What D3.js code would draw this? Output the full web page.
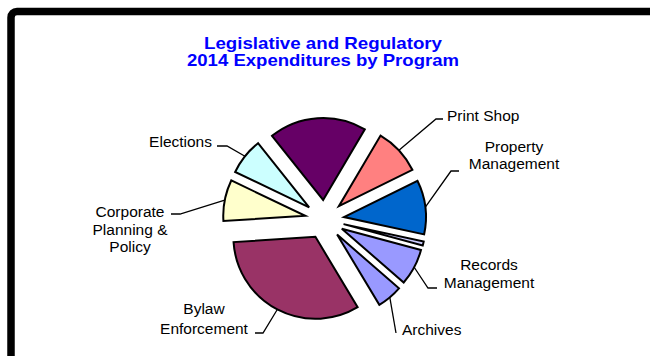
<!DOCTYPE html>
<html>
<head>
<meta charset="utf-8">
<script src="https://cdn.jsdelivr.net/npm/d3@7"></script>
<style>
  html, body { margin: 0; padding: 0; background: #ffffff; }
  svg { display: block; }
</style>
</head>
<body>
<svg id="chart" width="650" height="356"></svg>
<script>
// Programs in series order (clockwise); two small programs carry no label.
const categories = ["Archives", "Bylaw Enforcement", "Corporate Planning & Policy", "Elections", "",
                    "Print Shop", "Property Management", "", "Records Management"];
// Share of 2014 expenditures, percent
const shares = [5.0, 32.6, 8.1, 7.2, 19.2, 9.2, 10.7, 0.8, 7.2];
const sliceColors = ["#9999FF", "#993366", "#FFFFCC", "#CCFFFF", "#660066",
                     "#FF8080", "#0066CC", "#CCCCFF", "#9999FF"];
const titleLines = ["Legislative and Regulatory", "2014 Expenditures by Program"];

// Label placement: text lines, text position and the leader line's elbow/end points.
const labelLayout = {
  "Print Shop":                  { lines: ["Print Shop"], x: 447, cy: [115], anchor: "start", elbow: [436, 119], end: [443, 119] },
  "Property Management":         { lines: ["Property", "Management"], x: 514, cy: [146, 163], anchor: "middle", elbow: [451, 171], end: [459, 171] },
  "Records Management":          { lines: ["Records", "Management"], x: 489, cy: [264, 282], anchor: "middle", elbow: [428, 288], end: [437, 288] },
  "Archives":                    { lines: ["Archives"], x: 402, cy: [329], anchor: "start", elbow: [396, 333], end: [396, 333] },
  "Bylaw Enforcement":           { lines: ["Bylaw", "Enforcement"], x: 204, cy: [308, 328], anchor: "middle", elbow: [263, 333], end: [255, 333] },
  "Corporate Planning & Policy": { lines: ["Corporate", "Planning &", "Policy"], x: 130, cy: [211, 229, 246], anchor: "middle", elbow: [180, 214], end: [171, 214] },
  "Elections":                   { lines: ["Elections"], x: 212, cy: [141], anchor: "end", elbow: [227, 146], end: [217, 146] }
};

const svg = d3.select("#chart");
const W = 650, H = 356;

svg.append("rect").attr("width", W).attr("height", H).attr("fill", "#ffffff");

// Chart frame (runs off the right and bottom edges)
svg.append("rect")
  .attr("x", 11).attr("y", 11.5)
  .attr("width", 720).attr("height", 420)
  .attr("rx", 6).attr("ry", 6)
  .attr("fill", "#ffffff")
  .attr("stroke", "#000000")
  .attr("stroke-width", 7.5);

// Title: narrow bold face, each line stretched to its set width
const titleWidths = [238, 272];
svg.append("g").selectAll("text").data(titleLines).join("text")
  .attr("x", 323)
  .attr("y", (d, i) => 49 + i * 17)
  .attr("text-anchor", "middle")
  .attr("font-family", "'Liberation Sans', Arial, sans-serif")
  .attr("font-weight", "bold")
  .attr("font-size", 16.5)
  .attr("fill", "#0000FF")
  .attr("textLength", (d, i) => titleWidths[i])
  .attr("lengthAdjust", "spacingAndGlyphs")
  .text(d => d);

// Exploded pie
const cx = 324.5, cy = 219.5;
const radius = 82, explode = 19.6;
const startDeg = 131;

const pie = d3.pie()
  .sort(null)
  .value(d => d)
  .startAngle(startDeg * Math.PI / 180)
  .endAngle(startDeg * Math.PI / 180 + 2 * Math.PI);

const arc = d3.arc().innerRadius(0).outerRadius(radius);
const arcs = pie(shares);

const g = svg.append("g").attr("transform", `translate(${cx},${cy})`);

const mid = a => (a.startAngle + a.endAngle) / 2;

g.selectAll("path.slice").data(arcs).join("path")
  .attr("class", "slice")
  .attr("transform", a => {
    const m = mid(a);
    return `translate(${explode * Math.sin(m)},${-explode * Math.cos(m)})`;
  })
  .attr("d", arc)
  .attr("fill", (a, i) => sliceColors[i])
  .attr("stroke", "#000000")
  .attr("stroke-width", 2)
  .attr("stroke-linejoin", "miter");

// Leader lines and labels
const fontSize = 15.5;
arcs.forEach((a, i) => {
  const name = categories[i];
  const lay = labelLayout[name];
  if (!name || !lay) return;
  const m = mid(a);
  const rr = radius + explode;
  const sx = cx + rr * Math.sin(m), sy = cy - rr * Math.cos(m);

  svg.append("polyline")
    .attr("points", [[sx, sy], lay.elbow, lay.end].map(p => p.join(",")).join(" "))
    .attr("fill", "none")
    .attr("stroke", "#000000")
    .attr("stroke-width", 1.3);

  const t = svg.append("text")
    .attr("font-family", "'Liberation Sans', Arial, sans-serif")
    .attr("font-size", fontSize)
    .attr("fill", "#000000")
    .attr("text-anchor", lay.anchor);
  t.selectAll("tspan").data(lay.lines).join("tspan")
    .attr("x", lay.x)
    .attr("y", (d, k) => lay.cy[k] + fontSize * 0.36)
    .text(d => d);
});
</script>
</body>
</html>
